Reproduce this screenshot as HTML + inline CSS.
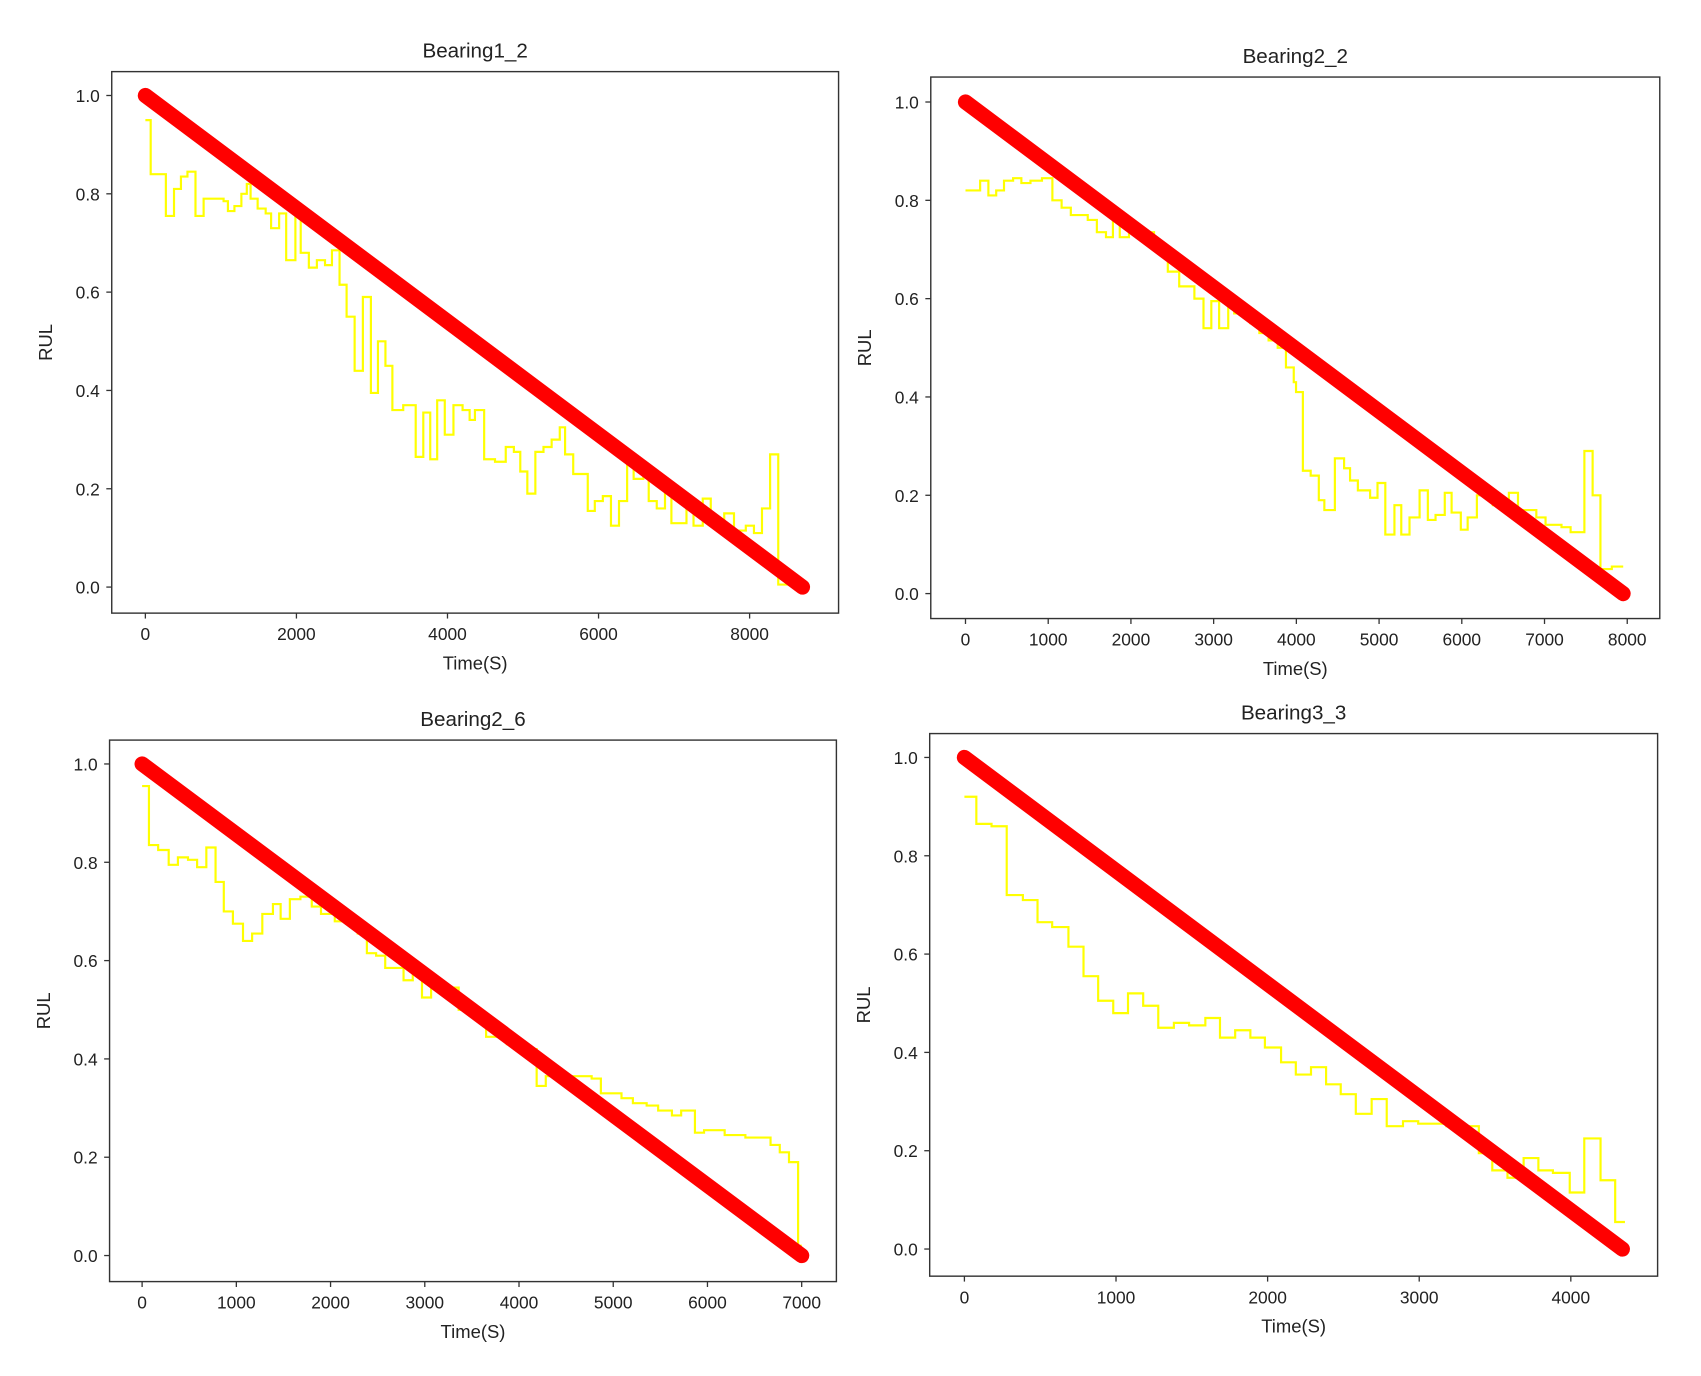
<!DOCTYPE html>
<html><head><meta charset="utf-8"><style>
html,body{margin:0;padding:0;background:#fff;}
svg{display:block;}
text{font-family:"Liberation Sans",sans-serif;fill:#222;}
</style></head><body>
<svg id="fig" width="1701" height="1376" viewBox="0 0 1568 1268" preserveAspectRatio="none" xmlns="http://www.w3.org/2000/svg"></svg>
<script>
// ---- Data ----
const p1Starts=[0,71,271,379,471,557,664,771,1036,1093,1179,1271,1343,1393,1486,1593,1664,1771,1864,1986,2057,2164,2271,2379,2471,2571,2664,2771,2879,2986,3079,3179,3271,3414,3579,3679,3771,3864,3964,4079,4200,4293,4364,4486,4629,4771,4879,4964,5057,5164,5271,5379,5486,5557,5664,5857,5950,6057,6164,6271,6379,6464,6593,6664,6771,6879,6964,7164,7257,7379,7486,7664,7793,7950,8057,8164,8271,8379];
const p1Values=[0.95,0.84,0.755,0.81,0.835,0.845,0.755,0.79,0.785,0.765,0.775,0.80,0.82,0.79,0.77,0.76,0.73,0.76,0.665,0.76,0.68,0.65,0.665,0.655,0.685,0.615,0.55,0.44,0.59,0.395,0.50,0.45,0.36,0.37,0.265,0.355,0.26,0.38,0.31,0.37,0.36,0.34,0.36,0.26,0.255,0.285,0.275,0.235,0.19,0.275,0.285,0.30,0.325,0.27,0.23,0.155,0.175,0.185,0.125,0.175,0.25,0.22,0.23,0.175,0.16,0.20,0.13,0.16,0.125,0.18,0.13,0.15,0.115,0.125,0.11,0.16,0.27,0.005];
const p1End=8664, p1Life=8700;
const p1Ticks=[0,2000,4000,6000,8000];

const p2Starts=[0,177,277,371,465,576,675,786,924,1051,1162,1273,1478,1588,1699,1782,1865,1976,2114,2280,2446,2584,2767,2878,2972,3066,3177,3248,3442,3553,3664,3774,3874,3968,3996,4079,4173,4272,4339,4466,4577,4649,4743,4892,4981,5075,5185,5268,5368,5490,5589,5683,5794,5877,5988,6071,6182,6375,6569,6680,6901,7012,7205,7316,7482,7582,7676,7814];
const p2Values=[0.82,0.84,0.81,0.82,0.84,0.845,0.835,0.84,0.845,0.80,0.785,0.77,0.76,0.735,0.725,0.76,0.725,0.74,0.735,0.70,0.655,0.625,0.60,0.54,0.595,0.54,0.585,0.57,0.55,0.53,0.515,0.50,0.46,0.43,0.41,0.25,0.24,0.19,0.17,0.275,0.255,0.23,0.21,0.195,0.225,0.12,0.18,0.12,0.155,0.21,0.15,0.16,0.205,0.165,0.13,0.155,0.2,0.18,0.205,0.17,0.155,0.14,0.135,0.125,0.29,0.2,0.05,0.055];
const p2End=7952, p2Life=7950;
const p2Ticks=[0,1000,2000,3000,4000,5000,6000,7000,8000];

const p3Starts=[0,73,170,282,380,487,584,682,779,867,964,1071,1168,1276,1388,1470,1568,1680,1801,1899,2045,2166,2288,2386,2483,2580,2775,2872,2970,3067,3165,3359,3554,3651,3871,3968,4187,4284,4771,4869,5088,5209,5355,5477,5623,5721,5867,5964,6183,6280,6402,6670,6767,6865,6962];
const p3Values=[0.955,0.835,0.825,0.795,0.81,0.805,0.79,0.83,0.76,0.70,0.675,0.64,0.655,0.695,0.715,0.685,0.725,0.73,0.71,0.695,0.68,0.675,0.655,0.615,0.61,0.585,0.56,0.58,0.525,0.555,0.545,0.5,0.48,0.445,0.43,0.42,0.345,0.365,0.36,0.33,0.32,0.31,0.305,0.295,0.285,0.295,0.25,0.255,0.245,0.245,0.24,0.225,0.21,0.19,0.02];
const p3End=7001, p3Life=7000;
const p3Ticks=[0,1000,2000,3000,4000,5000,6000,7000];

const p4Starts=[0,79,179,279,386,482,579,686,786,882,982,1079,1179,1279,1382,1482,1589,1686,1786,1886,1982,2089,2186,2286,2386,2482,2582,2686,2786,2893,2993,3179,3393,3482,3582,3689,3786,3882,3993,4089,4196,4293];
const p4Values=[0.92,0.865,0.86,0.72,0.71,0.665,0.655,0.615,0.555,0.505,0.48,0.52,0.495,0.45,0.46,0.455,0.47,0.43,0.445,0.43,0.41,0.38,0.355,0.37,0.335,0.315,0.275,0.305,0.25,0.26,0.255,0.25,0.195,0.16,0.145,0.185,0.16,0.155,0.115,0.225,0.14,0.055];
const p4End=4357, p4Life=4340;
const p4Ticks=[0,1000,2000,3000,4000];

const yTicks=[0.0,0.2,0.4,0.6,0.8,1.0];
const titles=["Bearing1_2","Bearing2_2","Bearing2_6","Bearing3_3"];

// ---- Layout (display coords) ----
const layouts=[
 {L:103,R:773,T:66,B:565,x0:134,xRefVal:8000,xRefPx:691,y1:88,y0:541},
 {L:858,R:1530,T:71,B:570,x0:890,xRefVal:8000,xRefPx:1500,y1:94,y0:547},
 {L:101,R:771,T:682,B:1181,x0:131,xRefVal:7000,xRefPx:739,y1:704,y0:1157},
 {L:857,R:1528,T:676,B:1176,x0:889,xRefVal:4000,xRefPx:1448,y1:698,y0:1151}
];
const series=[
 {starts:p1Starts,values:p1Values,end:p1End,life:p1Life,ticks:p1Ticks},
 {starts:p2Starts,values:p2Values,end:p2End,life:p2Life,ticks:p2Ticks},
 {starts:p3Starts,values:p3Values,end:p3End,life:p3Life,ticks:p3Ticks},
 {starts:p4Starts,values:p4Values,end:p4End,life:p4Life,ticks:p4Ticks}
];
const NS="http://www.w3.org/2000/svg";
const svg=document.getElementById('fig');
function mk(tag,attrs,parent){const e=document.createElementNS(NS,tag);for(const k in attrs)e.setAttribute(k,attrs[k]);parent.appendChild(e);return e;}

layouts.forEach((ly,i)=>{
  const s=series[i];
  const xs=v=>ly.x0+(v/ly.xRefVal)*(ly.xRefPx-ly.x0);
  const ys=v=>ly.y0-v*(ly.y0-ly.y1);
  const g=mk('g',{},svg);
  
  
  const t=mk('text',{x:(ly.L+ly.R)/2,y:ly.T-13,'text-anchor':'middle','font-size':19},g);
  t.textContent=titles[i];
  
  
  // predicted step line
  let d='';
  for(let k=0;k<s.starts.length;k++){
    const xa=xs(s.starts[k]), xb=xs(k+1<s.starts.length?s.starts[k+1]:s.end), y=ys(s.values[k]);
    d+=(k===0?'M':'L')+xa.toFixed(1)+','+y.toFixed(1)+' L'+xb.toFixed(1)+','+y.toFixed(1)+' ';
  }
  const pl=mk('path',{d:d,fill:'none',stroke:'#ffff00','stroke-width':2},g);
  
  
  // actual RUL line
  const rl=mk('line',{x1:xs(0),y1:ys(1),x2:xs(s.life),y2:ys(0),stroke:'#ff0000','stroke-width':14,'stroke-linecap':'round'},g);
  
  
  // frame
  const fr=mk('rect',{x:ly.L,y:ly.T,width:ly.R-ly.L,height:ly.B-ly.T,fill:'none',stroke:'#333','stroke-width':1.3},g);
  
  
  // x ticks
  s.ticks.forEach(v=>{
    const x=xs(v);
    mk('line',{x1:x,y1:ly.B,x2:x,y2:ly.B+5,stroke:'#333','stroke-width':1.2},g);
    const tl=mk('text',{x:x,y:ly.B+25,'text-anchor':'middle','font-size':16},g);
    tl.textContent=String(v);
    
    
  });
  yTicks.forEach(v=>{
    const y=ys(v);
    mk('line',{x1:ly.L-5,y1:y,x2:ly.L,y2:y,stroke:'#333','stroke-width':1.2},g);
    const tl=mk('text',{x:ly.L-11,y:y+6,'text-anchor':'end','font-size':16},g);
    tl.textContent=v.toFixed(1);
    
    
  });
  const xl=mk('text',{x:(ly.L+ly.R)/2,y:ly.B+52,'text-anchor':'middle','font-size':17},g);
  xl.textContent='Time(S)';
  
  
  const cy=(ly.T+ly.B)/2, cx=ly.L-55;
  const yl=mk('text',{x:cx,y:cy,'text-anchor':'middle','font-size':17,transform:'rotate(-90 '+cx+' '+cy+')'},g);
  yl.textContent='RUL';
  
  
});
</script>
</body></html>
